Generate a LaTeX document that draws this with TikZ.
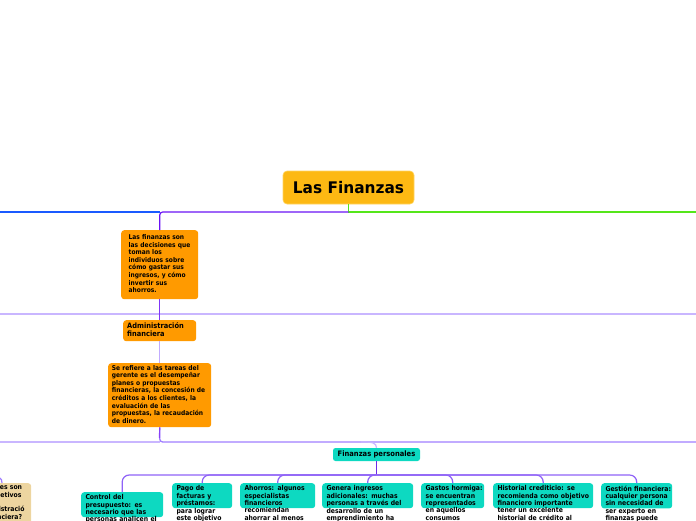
\documentclass[tikz,border=0pt]{standalone}
\usepackage{fontspec}
\setmainfont{DejaVu Sans}[FakeStretch=0.9]
\newfontfamily\titlefont{DejaVu Sans}[FakeStretch=0.96]
\usetikzlibrary{calc}
\definecolor{titleC}{HTML}{FDB913}
\definecolor{titleB}{HTML}{FFD561}
\definecolor{orangeC}{HTML}{FF9A00}
\definecolor{tealC}{HTML}{0DD9C1}
\definecolor{tanC}{HTML}{EDD5A0}
\definecolor{blueL}{HTML}{1A5AFF}
\definecolor{purpD}{HTML}{6A12F5}
\definecolor{greenL}{HTML}{55E61A}
\definecolor{lav}{HTML}{C9B6FF}
\definecolor{purpM}{HTML}{A07EFF}
\definecolor{purpC}{HTML}{8F63F7}
\definecolor{purpK}{HTML}{6C2BE6}
\newcommand{\fsA}{\fontsize{6.6}{7.55}\selectfont\bfseries}
\newcommand{\fsB}{\fontsize{7.4}{8.3}\selectfont\bfseries}
\newcommand{\fsP}{\fontsize{7.5}{8.3}\selectfont\bfseries}
\newcommand{\fsC}{\fontsize{6.8}{7.4}\selectfont\bfseries}
\newcommand{\fsT}{\titlefont\fontsize{16}{18}\selectfont\bfseries}
\newcommand{\lines}[1]{\begin{tabular}[t]{@{}l@{}}#1\end{tabular}}
\begin{document}
\begin{tikzpicture}[x=1pt,y=-1pt,
  conn/.style={line width=1.2pt},
  obox/.style={fill=orangeC, rounded corners=3pt, anchor=north west, align=left, text=black},
  cbox/.style={fill=tealC, rounded corners=3pt, anchor=north west, align=left, text=black,
     inner xsep=4.3pt, inner ysep=2.4pt, font=\fsC, text depth=15pt},
  frag/.style={anchor=base east, inner sep=0pt, font=\fsC, text=black}]
\useasboundingbox (0,0) rectangle (696,520);

% coordinates for free ends
\coordinate (L1) at (0,212);
\coordinate (R1) at (696,212);
\coordinate (L2) at (0,314);
\coordinate (R2) at (696,314);
\coordinate (L3) at (0,442);
\coordinate (R3) at (696,442);
\coordinate (fpin) at (361,442);
\coordinate (fpb) at (376.5,475);
\coordinate (tanin) at (-12,476);
\coordinate (tantop) at (2,483);
\coordinate (n3low) at (159.5,438);

% nodes
\node[fill=titleC, draw=titleB, line width=0.6pt, rounded corners=4pt, minimum width=131pt,
      minimum height=33pt, inner sep=0pt, font=\fsT] (title) at (348.5,187.5) {Las Finanzas};

\node[obox, font=\fsA, text width=62pt, inner xsep=7.5pt, inner ysep=0pt, minimum height=69pt] (n1) at (121,230)
 {\lines{Las finanzas son\\las decisiones que\\toman los\\individuos sobre\\cómo gastar sus\\ingresos, y cómo\\invertir sus\\ahorros.}};

\node[obox, font=\fsB, text width=65pt, inner xsep=4pt, inner ysep=0pt, minimum height=21pt] (n2) at (123,320)
 {\lines{Administración\\financiera}};

\node[obox, font=\fsA, text width=95.6pt, inner xsep=3.7pt, inner ysep=0pt, minimum height=64pt] (n3) at (108,363)
 {\lines{Se refiere a las tareas del\\gerente es el desempeñar\\planes o propuestas\\financieras, la concesión de\\créditos a los clientes, la\\evaluación de las\\propuestas, la recaudación\\de dinero.}};

\node[fill=tealC, rounded corners=2.5pt, minimum width=87pt, minimum height=13pt, inner sep=0pt,
      font=\fsP] (fp) at (376.5,454.5) {Finanzas personales};

\node[cbox, text width=73.4pt] (c1) at (81,492) {\lines{Control del\\presupuesto: es\\necesario que las\\personas analicen el}};
\node[cbox, text width=51.4pt] (c2) at (172,483) {\lines{Pago de\\facturas y\\préstamos:\\para lograr\\este objetivo}};
\node[cbox, text width=66.4pt] (c3) at (240,483) {\lines{Ahorros: algunos\\especialistas\\financieros\\recomiendan\\ahorrar al menos}};
\node[cbox, text width=82.4pt] (c4) at (322,483) {\lines{Genera ingresos\\adicionales: muchas\\personas a través del\\desarrollo de un\\emprendimiento ha}};
\node[cbox, text width=54pt, inner xsep=4.5pt] (c5) at (421,483) {\lines{Gastos hormiga:\\se encuentran\\representados\\en aquellos\\consumos}};
\node[cbox, text width=91.4pt] (c6) at (493,483) {\lines{Historial crediticio: se\\recomienda como objetivo\\financiero importante\\tener un excelente\\historial de crédito al}};
\node[cbox, text width=62.4pt] (c7) at (601,483) {\lines{Gestión financiera:\\cualquier persona\\sin necesidad de\\ser experto en\\finanzas puede}};

\node[fill=tanC, rounded corners=3pt, anchor=north west, minimum width=91pt, minimum height=50pt, inner sep=0pt] (tan) at (-60,483) {};
\node[frag] (t1) at (22.3,489.9) {es son};
\node[frag] (t2) at (21.7,497.6) {jetivos};
\node[frag] (t3) at (24.7,511.8) {istració};
\node[frag] (t4) at (22.3,519.2) {nciera?};

% connectors
\draw[conn, lav, line width=1.4pt] (L2) -- (R2);
\draw[conn, lav, line width=1.4pt] (L3) -- (n3.south |- L3);
\draw[conn, purpM, line width=1.3pt, rounded corners=3pt] (n3.south) |- (R3);
\draw[conn, purpD!80!white] (n3.south) -- (n3low);
\draw[conn, lav] (fpin) .. controls (372,442) and (376.5,442.5) .. (fp.north);
\draw[conn, blueL] (L1) -- (n1.north |- L1);
\draw[conn, greenL, line width=1.4pt] (title.south) |- (R1);
\draw[conn, purpD, rounded corners=3pt] (n1.north) |- (title.south |- L1);
\draw[conn, purpD!85!white] (n1.south) -- (n2.north);
\draw[conn, lav!80!purpM] (n2.south) -- (n3.north);
\draw[conn, purpK, line width=1.6pt] (fp.south) -- (fpb);
\foreach \c in {c1,c2,c3,c4,c5,c6,c7}{
  \draw[conn, purpC, rounded corners=7pt] (fpb) -| (\c.north);
}
\draw[conn, purpM] (tanin) .. controls (0,476) and (2,478) .. (tantop);
\end{tikzpicture}
\end{document}
